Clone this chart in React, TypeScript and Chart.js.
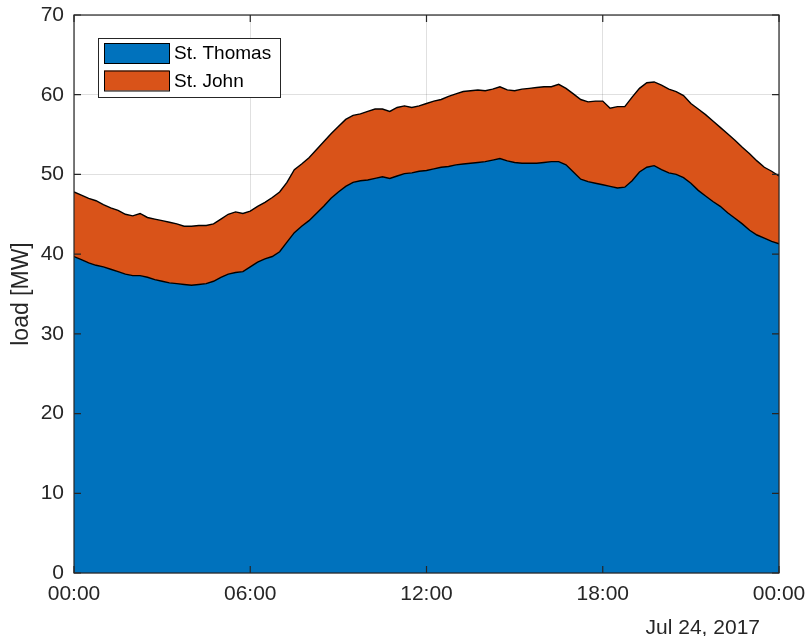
import { useEffect, useRef } from "react";
import { Chart, registerables } from "chart.js";

Chart.register(...registerables);

// Load in MW, sampled every 15 minutes from 00:00 to 24:00 (one row per hour).
const SAMPLE_MINUTES = 15;

const stThomas = [
  39.7, 39.3, 38.9, 38.6,
  38.4, 38.1, 37.8, 37.5,
  37.3, 37.3, 37.1, 36.8,
  36.6, 36.4, 36.3, 36.2,
  36.1, 36.2, 36.3, 36.6,
  37.1, 37.5, 37.7, 37.8,
  38.4, 39.0, 39.4, 39.7,
  40.3, 41.5, 42.7, 43.5,
  44.2, 45.1, 46.0, 47.0,
  47.8, 48.5, 49.0, 49.2,
  49.3, 49.5, 49.7, 49.5,
  49.8, 50.1, 50.2, 50.4,
  50.5, 50.7, 50.9, 51.0,
  51.2, 51.3, 51.4, 51.5,
  51.6, 51.8, 52.0, 51.7,
  51.5, 51.4, 51.4, 51.4,
  51.5, 51.6, 51.6, 51.2,
  50.3, 49.4, 49.1, 48.9,
  48.7, 48.5, 48.3, 48.4,
  49.2, 50.3, 50.9, 51.1,
  50.6, 50.2, 50.0, 49.6,
  48.9, 48.0, 47.3, 46.6,
  46.0, 45.2, 44.5, 43.8,
  43.0, 42.4, 42.0, 41.6,
  41.3,
];

const stJohn = [
  8.1, 8.1, 8.1, 8.1,
  7.8, 7.7, 7.7, 7.5,
  7.5, 7.8, 7.5, 7.6,
  7.6, 7.6, 7.5, 7.3,
  7.4, 7.4, 7.3, 7.2,
  7.3, 7.5, 7.6, 7.3,
  7.0, 7.0, 7.1, 7.4,
  7.5, 7.5, 7.9, 7.8,
  7.9, 8.0, 8.1, 8.1,
  8.2, 8.4, 8.4, 8.4,
  8.6, 8.7, 8.5, 8.4,
  8.6, 8.5, 8.2, 8.2,
  8.4, 8.5, 8.5, 8.8,
  8.9, 9.1, 9.1, 9.1,
  8.9, 8.9, 9.0, 8.9,
  9.0, 9.3, 9.4, 9.5,
  9.5, 9.4, 9.7, 9.6,
  9.8, 10.0, 10.0, 10.3,
  10.5, 9.8, 10.2, 10.1,
  10.5, 10.5, 10.6, 10.5,
  10.6, 10.5, 10.4, 10.3,
  10.0, 10.2, 10.2, 10.1,
  9.9, 9.9, 9.8, 9.6,
  9.6, 9.3, 8.9, 8.8,
  8.5,
];

const seriesNames = ["St. Thomas", "St. John"];
const seriesColors = ["#0072BD", "#D95319"];

const xTickHours = [0, 6, 12, 18, 24];
const xTickLabels = ["00:00", "06:00", "12:00", "18:00", "00:00"];
const yTickValues = [0, 10, 20, 30, 40, 50, 60, 70];
const dateLabel = "Jul 24, 2017";
const yAxisTitle = "load [MW]";

const hours = stThomas.map((_, i) => (i * SAMPLE_MINUTES) / 60);

const FONT = '"Liberation Sans", Arial, Helvetica, sans-serif';
const AXIS_COLOR = "#262626";
const GRID_COLOR = "rgba(38,38,38,0.14)";
const TICK_LEN = 7;

// Axes box, inward tick marks, in-plot legend and the date caption.
const overlayPlugin = {
  id: "overlay",
  afterDatasetsDraw(chart: any) {
    const { ctx, chartArea, scales } = chart;
    const { left, right, top, bottom } = chartArea;
    ctx.save();

    ctx.strokeStyle = AXIS_COLOR;
    ctx.lineWidth = 1.2;
    ctx.strokeRect(left, top, right - left, bottom - top);

    ctx.beginPath();
    xTickHours.forEach((h) => {
      const x = scales.x.getPixelForValue(h);
      ctx.moveTo(x, bottom);
      ctx.lineTo(x, bottom - TICK_LEN);
      ctx.moveTo(x, top);
      ctx.lineTo(x, top + TICK_LEN);
    });
    yTickValues.forEach((v) => {
      const y = scales.y.getPixelForValue(v);
      ctx.moveTo(left, y);
      ctx.lineTo(left + TICK_LEN, y);
      ctx.moveTo(right, y);
      ctx.lineTo(right - TICK_LEN, y);
    });
    ctx.stroke();

    // legend box
    const bx = left + 24;
    const by = top + 23;
    const bw = 182;
    const bh = 59;
    ctx.fillStyle = "#ffffff";
    ctx.fillRect(bx, by, bw, bh);
    ctx.lineWidth = 1;
    ctx.strokeStyle = AXIS_COLOR;
    ctx.strokeRect(bx + 0.5, by + 0.5, bw, bh);

    ctx.font = `19px ${FONT}`;
    ctx.textAlign = "left";
    ctx.textBaseline = "middle";
    seriesNames.forEach((name, i) => {
      const cy = by + 15 + i * 27.5;
      ctx.fillStyle = seriesColors[i];
      ctx.fillRect(bx + 6, cy - 10, 65, 20);
      ctx.strokeStyle = "#000";
      ctx.strokeRect(bx + 6.5, cy - 9.5, 65, 20);
      ctx.fillStyle = "#000";
      ctx.fillText(name, bx + 76, cy + 1);
    });

    ctx.font = `21px ${FONT}`;
    ctx.fillStyle = AXIS_COLOR;
    ctx.textAlign = "right";
    ctx.fillText(dateLabel, right - 19, bottom + 55);

    ctx.restore();
  },
};

export default function App() {
  const canvasRef = useRef<HTMLCanvasElement | null>(null);

  useEffect(() => {
    const canvas = canvasRef.current;
    if (!canvas) return;

    const chart = new Chart(canvas, {
      type: "line",
      data: {
        datasets: [
          {
            label: seriesNames[0],
            data: stThomas.map((v, i) => ({ x: hours[i], y: v })),
            backgroundColor: seriesColors[0],
            borderColor: "#000",
            borderWidth: 1.4,
            fill: "origin",
            pointRadius: 0,
            tension: 0,
          },
          {
            label: seriesNames[1],
            data: stJohn.map((v, i) => ({ x: hours[i], y: v })),
            backgroundColor: seriesColors[1],
            borderColor: "#000",
            borderWidth: 1.4,
            fill: "-1",
            pointRadius: 0,
            tension: 0,
          },
        ],
      },
      options: {
        animation: false,
        responsive: false,
        devicePixelRatio: 1,
        layout: { padding: { top: 15, right: 29, left: 0, bottom: 0 } },
        plugins: {
          legend: { display: false },
          tooltip: { enabled: false },
        },
        scales: {
          x: {
            type: "linear",
            min: 0,
            max: 24,
            afterFit(scale: any) {
              scale.height = 63;
              scale.paddingLeft = 0;
              scale.paddingRight = 0;
            },
            afterBuildTicks(scale: any) {
              scale.ticks = xTickHours.map((h) => ({ value: h }));
            },
            ticks: {
              autoSkip: false,
              maxRotation: 0,
              padding: 9,
              color: AXIS_COLOR,
              font: { family: FONT, size: 21 },
              callback: (_v: any, i: number) => xTickLabels[i],
            },
            grid: { color: GRID_COLOR, drawTicks: false },
            border: { display: false },
          },
          y: {
            stacked: true,
            min: 0,
            max: 70,
            afterFit(scale: any) {
              scale.width = 74;
              scale.paddingTop = 0;
              scale.paddingBottom = 0;
            },
            afterBuildTicks(scale: any) {
              scale.ticks = yTickValues.map((v) => ({ value: v }));
            },
            ticks: {
              padding: 10,
              color: AXIS_COLOR,
              font: { family: FONT, size: 21 },
              callback: (v: any) => String(v),
            },
            title: {
              display: true,
              text: yAxisTitle,
              color: AXIS_COLOR,
              font: { family: FONT, size: 23 },
              padding: { top: 8, bottom: 0 },
            },
            grid: { color: GRID_COLOR, drawTicks: false },
            border: { display: false },
          },
        },
      },
      plugins: [overlayPlugin],
    });

    return () => chart.destroy();
  }, []);

  return (
    <div style={{ position: "fixed", left: 0, top: 0, width: 808, height: 636, background: "#fff" }}>
      <canvas ref={canvasRef} width={808} height={636} style={{ display: "block" }} />
    </div>
  );
}
